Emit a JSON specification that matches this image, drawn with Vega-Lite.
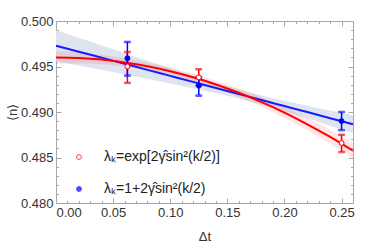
{
  "$schema": "https://vega.github.io/schema/vega-lite/v6.json",
  "width": 297,
  "height": 182,
  "autosize": "none",
  "padding": {"left": 56, "top": 21, "right": 21, "bottom": 40},
  "background": "white",
  "config": {
    "view": {"stroke": "#a8a8a8", "strokeWidth": 1},
    "axis": {"grid": false, "domain": false, "tickColor": "#a8a8a8", "labelFont": "Liberation Sans", "labelFontSize": 13, "labelColor": "#333333", "titleFont": "Liberation Sans", "titleFontWeight": "normal", "titleColor": "#333333", "titleFontSize": 13},
    "legend": {"orient": "none", "legendX": 16, "legendY": 129, "title": null, "labelFont": "Liberation Sans", "labelFontSize": 14, "labelColor": "#222222", "symbolSize": 24, "symbolStrokeWidth": 1, "rowPadding": 18, "labelOffset": 18, "padding": 0, "labelLimit": 300}
  },
  "datasets": {
    "fits": [
      {"x": 0.00, "red": 0.49600, "rlo": 0.49530, "rhi": 0.49670, "blue": 0.49729, "blo": 0.49559, "bhi": 0.49899},
      {"x": 0.02, "red": 0.49594, "rlo": 0.49534, "rhi": 0.49654, "blue": 0.49663, "blo": 0.49511, "bhi": 0.49815},
      {"x": 0.04, "red": 0.49576, "rlo": 0.49526, "rhi": 0.49626, "blue": 0.49596, "blo": 0.49462, "bhi": 0.49730},
      {"x": 0.06, "red": 0.49545, "rlo": 0.49500, "rhi": 0.49590, "blue": 0.49530, "blo": 0.49414, "bhi": 0.49646},
      {"x": 0.08, "red": 0.49503, "rlo": 0.49463, "rhi": 0.49543, "blue": 0.49463, "blo": 0.49364, "bhi": 0.49562},
      {"x": 0.10, "red": 0.49448, "rlo": 0.49408, "rhi": 0.49488, "blue": 0.49397, "blo": 0.49314, "bhi": 0.49480},
      {"x": 0.12, "red": 0.49381, "rlo": 0.49341, "rhi": 0.49421, "blue": 0.49331, "blo": 0.49262, "bhi": 0.49400},
      {"x": 0.14, "red": 0.49302, "rlo": 0.49260, "rhi": 0.49344, "blue": 0.49264, "blo": 0.49206, "bhi": 0.49322},
      {"x": 0.16, "red": 0.49211, "rlo": 0.49164, "rhi": 0.49258, "blue": 0.49198, "blo": 0.49147, "bhi": 0.49249},
      {"x": 0.18, "red": 0.49108, "rlo": 0.49055, "rhi": 0.49161, "blue": 0.49131, "blo": 0.49080, "bhi": 0.49182},
      {"x": 0.20, "red": 0.48993, "rlo": 0.48933, "rhi": 0.49053, "blue": 0.49065, "blo": 0.49007, "bhi": 0.49123},
      {"x": 0.22, "red": 0.48865, "rlo": 0.48797, "rhi": 0.48933, "blue": 0.48999, "blo": 0.48930, "bhi": 0.49068},
      {"x": 0.24, "red": 0.48726, "rlo": 0.48649, "rhi": 0.48803, "blue": 0.48932, "blo": 0.48849, "bhi": 0.49015},
      {"x": 0.26, "red": 0.48574, "rlo": 0.48488, "rhi": 0.48660, "blue": 0.48866, "blo": 0.48767, "bhi": 0.48965}
    ],
    "pts": [
      {"series": "λₖ=exp[2γ̂sin²(k/2)]", "dt": 0.0625, "n": 0.4950, "lo": 0.4932, "hi": 0.4966},
      {"series": "λₖ=exp[2γ̂sin²(k/2)]", "dt": 0.125, "n": 0.4938, "lo": 0.4929, "hi": 0.4947},
      {"series": "λₖ=exp[2γ̂sin²(k/2)]", "dt": 0.25, "n": 0.4866, "lo": 0.4856, "hi": 0.4875},
      {"series": "λₖ=1+2γ̂sin²(k/2)", "dt": 0.0625, "n": 0.4959, "lo": 0.4940, "hi": 0.4977},
      {"series": "λₖ=1+2γ̂sin²(k/2)", "dt": 0.125, "n": 0.4929, "lo": 0.4918, "hi": 0.4938},
      {"series": "λₖ=1+2γ̂sin²(k/2)", "dt": 0.25, "n": 0.4890, "lo": 0.4880, "hi": 0.4900}
    ]
  },
  "resolve": {"axis": {"x": "independent", "y": "independent"}},
  "layer": [
    {
      "data": {"name": "fits"},
      "mark": {"type": "area", "color": "#dfe5f0", "opacity": 1, "interpolate": "monotone"},
      "encoding": {
        "x": {"field": "x", "type": "quantitative", "scale": {"domain": [0, 0.26], "nice": false, "zero": false},
              "axis": {"orient": "bottom", "values": [0, 0.05, 0.1, 0.15, 0.2, 0.25], "format": ".2f", "tickSize": -5, "labelPadding": 8, "title": "Δt", "titleX": 148.5, "titleY": 33, "titleBaseline": "middle"}},
        "y": {"field": "blo", "type": "quantitative", "scale": {"domain": [0.48, 0.5], "nice": false, "zero": false},
              "axis": {"orient": "left", "values": [0.48, 0.485, 0.49, 0.495, 0.5], "format": ".3f", "tickSize": -5, "labelPadding": 8, "title": "⟨n⟩", "titleX": -44, "titleY": 91, "titleAngle": -90, "titleAlign": "center", "titleBaseline": "middle"}},
        "y2": {"field": "bhi"}
      }
    },
    {
      "data": {"name": "fits"},
      "mark": {"type": "area", "color": "#ff0000", "opacity": 0.1, "interpolate": "monotone"},
      "encoding": {
        "x": {"field": "x", "type": "quantitative", "scale": {"domain": [0, 0.26], "nice": false, "zero": false},
              "axis": {"orient": "bottom", "values": [0.01, 0.02, 0.03, 0.04, 0.06, 0.07, 0.08, 0.09, 0.11, 0.12, 0.13, 0.14, 0.16, 0.17, 0.18, 0.19, 0.21, 0.22, 0.23, 0.24], "labels": false, "tickSize": -2.5, "title": null}},
        "y": {"field": "rlo", "type": "quantitative", "scale": {"domain": [0.48, 0.5], "nice": false, "zero": false},
              "axis": {"orient": "left", "values": [0.481, 0.482, 0.483, 0.484, 0.486, 0.487, 0.488, 0.489, 0.491, 0.492, 0.493, 0.494, 0.496, 0.497, 0.498, 0.499], "labels": false, "tickSize": -2.5, "title": null}},
        "y2": {"field": "rhi"}
      }
    },
    {
      "data": {"name": "fits"},
      "mark": {"type": "line", "color": "#1a1aff", "strokeWidth": 2, "interpolate": "monotone"},
      "encoding": {
        "x": {"field": "x", "type": "quantitative", "scale": {"domain": [0, 0.26], "nice": false, "zero": false},
              "axis": {"orient": "top", "values": [0, 0.05, 0.1, 0.15, 0.2, 0.25], "labels": false, "tickSize": -5, "title": null}},
        "y": {"field": "blue", "type": "quantitative", "scale": {"domain": [0.48, 0.5], "nice": false, "zero": false},
              "axis": {"orient": "right", "values": [0.48, 0.485, 0.49, 0.495, 0.5], "labels": false, "tickSize": -5, "title": null}}
      }
    },
    {
      "data": {"name": "fits"},
      "mark": {"type": "line", "color": "#ff0000", "strokeWidth": 2, "interpolate": "monotone"},
      "encoding": {
        "x": {"field": "x", "type": "quantitative", "scale": {"domain": [0, 0.26], "nice": false, "zero": false},
              "axis": {"orient": "top", "values": [0.01, 0.02, 0.03, 0.04, 0.06, 0.07, 0.08, 0.09, 0.11, 0.12, 0.13, 0.14, 0.16, 0.17, 0.18, 0.19, 0.21, 0.22, 0.23, 0.24], "labels": false, "tickSize": -2.5, "title": null}},
        "y": {"field": "red", "type": "quantitative", "scale": {"domain": [0.48, 0.5], "nice": false, "zero": false},
              "axis": {"orient": "right", "values": [0.481, 0.482, 0.483, 0.484, 0.486, 0.487, 0.488, 0.489, 0.491, 0.492, 0.493, 0.494, 0.496, 0.497, 0.498, 0.499], "labels": false, "tickSize": -2.5, "title": null}}
      }
    },
    {
      "data": {"name": "pts"},
      "mark": {"type": "rule", "strokeWidth": 1.5},
      "encoding": {
        "x": {"field": "dt", "type": "quantitative", "axis": null},
        "y": {"field": "lo", "type": "quantitative", "axis": null},
        "y2": {"field": "hi"},
        "stroke": {"field": "series", "type": "nominal", "scale": {"domain": ["λₖ=exp[2γ̂sin²(k/2)]", "λₖ=1+2γ̂sin²(k/2)"], "range": ["#ff0000", "#0000ff"]}}
      }
    },
    {
      "data": {"name": "pts"},
      "mark": {"type": "tick", "orient": "horizontal", "size": 6, "thickness": 1.5},
      "encoding": {
        "x": {"field": "dt", "type": "quantitative", "axis": null},
        "y": {"field": "lo", "type": "quantitative", "axis": null},
        "stroke": {"field": "series", "type": "nominal"}
      }
    },
    {
      "data": {"name": "pts"},
      "mark": {"type": "tick", "orient": "horizontal", "size": 6, "thickness": 1.5},
      "encoding": {
        "x": {"field": "dt", "type": "quantitative", "axis": null},
        "y": {"field": "hi", "type": "quantitative", "axis": null},
        "stroke": {"field": "series", "type": "nominal"}
      }
    },
    {
      "data": {"name": "pts"},
      "mark": {"type": "point", "shape": "circle", "size": 24, "strokeWidth": 1, "opacity": 1},
      "encoding": {
        "x": {"field": "dt", "type": "quantitative", "axis": null},
        "y": {"field": "n", "type": "quantitative", "axis": null},
        "fill": {"field": "series", "type": "nominal", "scale": {"domain": ["λₖ=exp[2γ̂sin²(k/2)]", "λₖ=1+2γ̂sin²(k/2)"], "range": ["#ffffff", "#0000ff"]}},
        "stroke": {"field": "series", "type": "nominal"}
      }
    }
  ]
}
